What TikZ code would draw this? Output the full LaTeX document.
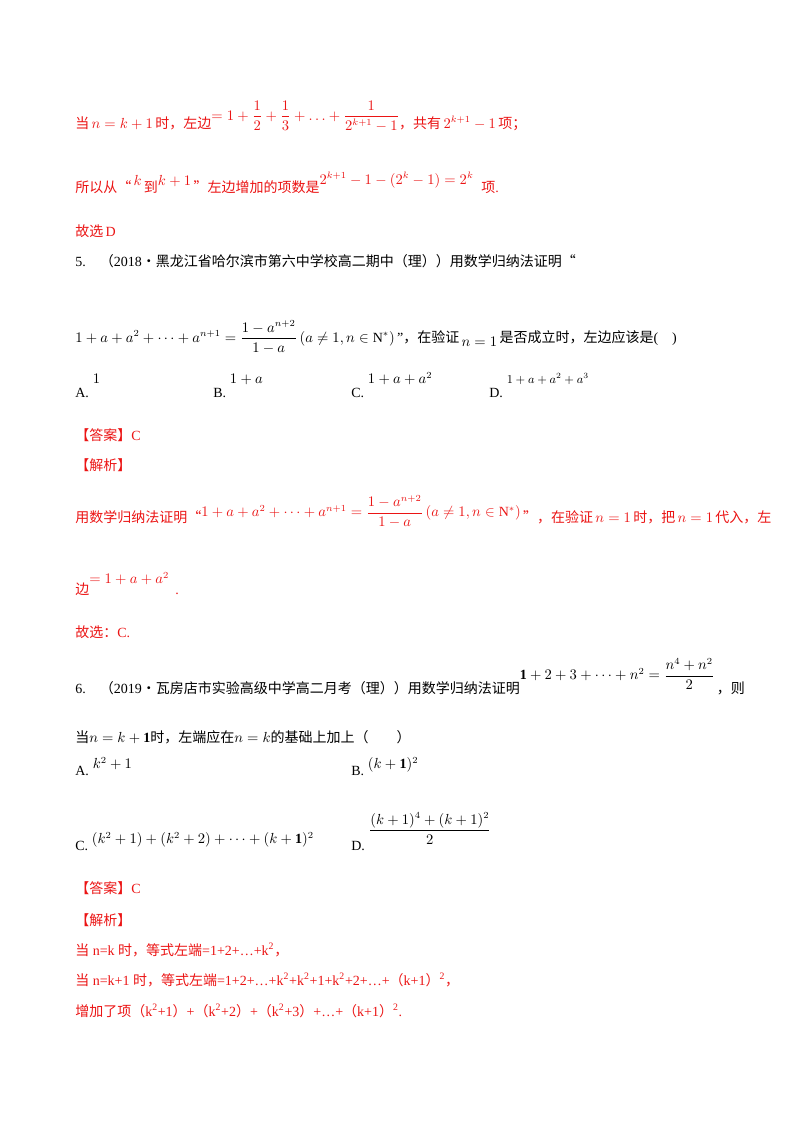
\documentclass[tikz,border=0pt]{standalone}
\usepackage{amsmath}
\usepackage{fontspec}
\setmainfont{Liberation Serif}
\newfontfamily\cjk{Noto Sans CJK SC}
\newcommand{\zh}[1]{{\cjk #1}}
\definecolor{ans}{RGB}{235,20,20}
\begin{document}
\begin{tikzpicture}[x=0.75pt,y=-0.75pt,
  t/.style={anchor=base west,inner sep=0pt,font=\fontsize{10.5}{12}\selectfont},
  r/.style={t,text=ans}]
\useasboundingbox (0,0) rectangle (800,1132);
\node[r] (l1) at (75,128) {\zh{当}\,$n=k+1$\,\zh{时，左边}\raisebox{6pt}{$=1+\dfrac12+\dfrac13+\ldots+\dfrac{1}{2^{k+1}-1}$}\zh{，共有}\,$2^{k+1}-1$\,\zh{项；}};
\node[r] (l2) at (75,192) {\zh{所以从“}\,\raisebox{5pt}{$k$}\,\zh{到}\raisebox{5pt}{$k+1$}\,\zh{”左边增加的项数是}\raisebox{6pt}{$2^{k+1}-1-(2^k-1)=2^k$}\;\;\zh{项}.};
\node[r] (l3) at (75,236) {\zh{故选}\,D};
\node[t] (q5) at (75,266) {5.\quad\zh{（}2018\zh{·黑龙江省哈尔滨市第六中学校高二期中（理））用数学归纳法证明“}};
\node[t] (q5b) at (75,342) {$1+a+a^2+\cdots+a^{n+1}=\dfrac{1-a^{n+2}}{1-a}\left(a\neq1,n\in\mathrm{N}^*\right)$\,”\zh{，在验证}\,\raisebox{-3pt}{$n=1$}\,\zh{是否成立时，左边应该是}(\quad)};
\node[t] (oA) at (75,397) {A.\;\raisebox{10pt}{$1$}};
\node[t] (oB) at (213,397) {B.\;\raisebox{10pt}{$1+a$}};
\node[t] (oC) at (351,397) {C.\;\raisebox{10pt}{$1+a+a^2$}};
\node[t] (oD) at (489,397) {D.\;\raisebox{10pt}{\small$1+a+a^2+a^3$}};
\node[r] (a5) at (75,440) {\zh{【答案】}C};
\node[r] (j5) at (75,470) {\zh{【解析】}};
\node[r] (s1) at (75,522) {\zh{用数学归纳法证明“}\raisebox{4pt}{$1+a+a^2+\cdots+a^{n+1}=\dfrac{1-a^{n+2}}{1-a}\left(a\neq1,n\in\mathrm{N}^*\right)$}\,\zh{”，在验证}\,$n=1$\,\zh{时，把}\,$n=1$\,\zh{代入，左}};
\node[r] (s2) at (75,594) {\zh{边}\raisebox{8pt}{$=1+a+a^2$}\;\,.};
\node[r] (s3) at (75,637) {\zh{故选：}C.};
\node[t] (q6) at (75,693) {6.\quad\zh{（}2019\zh{·瓦房店市实验高级中学高二月考（理））用数学归纳法证明}\raisebox{10pt}{$\mathbf{1}+2+3+\cdots+n^2=\dfrac{n^4+n^2}{2}$}\,\zh{，则}};
\node[t] (q6b) at (75,742) {\zh{当}$n=k+\mathbf{1}$\zh{时，左端应在}$n=k$\zh{的基础上加上（\qquad）}};
\node[t] (o6A) at (75,775) {A.\;\raisebox{5pt}{$k^2+1$}};
\node[t] (o6B) at (351,775) {B.\;\raisebox{5pt}{$(k+\mathbf{1})^2$}};
\node[t] (o6C) at (75,850) {C.\;\raisebox{5pt}{$\left(k^2+1\right)+\left(k^2+2\right)+\cdots+(k+\mathbf{1})^2$}};
\node[t] (o6D) at (351,850) {D.\;\raisebox{12pt}{$\dfrac{(k+1)^4+(k+1)^2}{2}$}};
\node[r] (a6) at (75,893) {\zh{【答案】}C};
\node[r] (j6) at (75,925) {\zh{【解析】}};
\node[r] (u1) at (75,955) {\zh{当} n=k \zh{时，等式左端}=1+2+…+k\textsuperscript{2}\zh{，}};
\node[r] (u2) at (75,985) {\zh{当} n=k+1 \zh{时，等式左端}=1+2+…+k\textsuperscript{2}+k\textsuperscript{2}+1+k\textsuperscript{2}+2+…+\zh{（}k+1\zh{）}\textsuperscript{2}\zh{，}};
\node[r] (u3) at (75,1016) {\zh{增加了项（}k\textsuperscript{2}+1\zh{）}+\zh{（}k\textsuperscript{2}+2\zh{）}+\zh{（}k\textsuperscript{2}+3\zh{）}+…+\zh{（}k+1\zh{）}\textsuperscript{2}.};
\end{tikzpicture}
\end{document}
